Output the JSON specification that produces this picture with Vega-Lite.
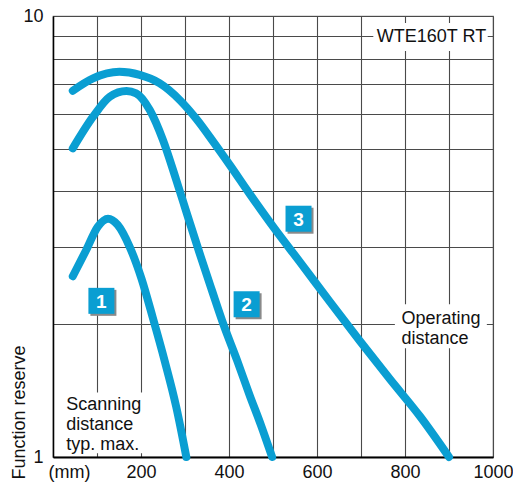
{
  "$schema": "https://vega.github.io/schema/vega-lite/v6.json",
  "width": 440,
  "height": 441,
  "autosize": {"type": "none"},
  "padding": {"left": 53, "top": 16, "right": 20, "bottom": 28},
  "background": "white",
  "config": {
    "view": {"stroke": "#777", "strokeWidth": 1.2},
    "font": "Liberation Sans",
    "axis": {"gridColor": "#4a4a4a", "gridWidth": 1.1, "gridOpacity": 1, "ticks": false, "labelFont": "Liberation Sans", "titleFont": "Liberation Sans", "labelColor": "#111", "titleColor": "#111", "labelFontSize": 18, "titleFontSize": 18, "titleFontWeight": "normal"}
  },
  "datasets": {
    "curves": [
      {"curve": "1", "d": 45, "fr": 2.57}, {"curve": "1", "d": 75, "fr": 2.94}, {"curve": "1", "d": 102, "fr": 3.33}, {"curve": "1", "d": 125, "fr": 3.47}, {"curve": "1", "d": 147, "fr": 3.36}, {"curve": "1", "d": 174, "fr": 3.0}, {"curve": "1", "d": 201, "fr": 2.54}, {"curve": "1", "d": 227, "fr": 2.066}, {"curve": "1", "d": 254, "fr": 1.649}, {"curve": "1", "d": 280, "fr": 1.3}, {"curve": "1", "d": 303, "fr": 1.0},
      {"curve": "2", "d": 45, "fr": 5.01}, {"curve": "2", "d": 91, "fr": 5.91}, {"curve": "2", "d": 129, "fr": 6.56}, {"curve": "2", "d": 167, "fr": 6.76}, {"curve": "2", "d": 189, "fr": 6.68}, {"curve": "2", "d": 220, "fr": 6.12}, {"curve": "2", "d": 250, "fr": 5.23}, {"curve": "2", "d": 280, "fr": 4.25}, {"curve": "2", "d": 306, "fr": 3.52}, {"curve": "2", "d": 333, "fr": 2.9}, {"curve": "2", "d": 361, "fr": 2.39}, {"curve": "2", "d": 388, "fr": 1.99}, {"curve": "2", "d": 418, "fr": 1.66}, {"curve": "2", "d": 447, "fr": 1.38}, {"curve": "2", "d": 472, "fr": 1.186}, {"curve": "2", "d": 498, "fr": 1.0},
      {"curve": "3", "d": 45, "fr": 6.77}, {"curve": "3", "d": 91, "fr": 7.22}, {"curve": "3", "d": 151, "fr": 7.47}, {"curve": "3", "d": 197, "fr": 7.35}, {"curve": "3", "d": 242, "fr": 7.04}, {"curve": "3", "d": 288, "fr": 6.45}, {"curve": "3", "d": 326, "fr": 5.84}, {"curve": "3", "d": 364, "fr": 5.19}, {"curve": "3", "d": 402, "fr": 4.59}, {"curve": "3", "d": 447, "fr": 3.95}, {"curve": "3", "d": 504, "fr": 3.29}, {"curve": "3", "d": 561, "fr": 2.77}, {"curve": "3", "d": 629, "fr": 2.25}, {"curve": "3", "d": 697, "fr": 1.835}, {"curve": "3", "d": 766, "fr": 1.5}, {"curve": "3", "d": 834, "fr": 1.237}, {"curve": "3", "d": 900, "fr": 1.0}
    ],
    "boxes": [
      {"label": "1", "d": 110, "fr": 2.26},
      {"label": "2", "d": 440, "fr": 2.22},
      {"label": "3", "d": 558, "fr": 3.47}
    ],
    "masks": [
      {"d": 728, "d2": 988, "fr": 8.33, "fr2": 9.64},
      {"d": 777, "d2": 986, "fr": 1.765, "fr2": 2.22},
      {"d": 5, "d2": 210, "fr": 1.02, "fr2": 1.4}
    ],
    "notes": [
      {"t": "WTE160T RT", "d": 736, "fr": 8.74},
      {"t": "Operating\ndistance", "d": 792, "fr": 2.0},
      {"t": "Scanning\ndistance\ntyp. max.", "d": 30, "fr": 1.276}
    ]
  },
  "layer": [
    {
      "data": {"name": "masks"},
      "mark": {"type": "rect", "fill": "white", "stroke": null},
      "encoding": {
        "x": {"field": "d", "type": "quantitative", "scale": {"domain": [0, 1000], "nice": false, "zero": false},
          "axis": {"values": [0, 100, 200, 300, 400, 500, 600, 700, 800, 900, 1000], "format": "d", "labelOverlap": false, "labelFlush": false, "labelPadding": 6, "domainColor": "#000", "domainWidth": 2,
            "labelExpr": "datum.value == 0 ? '(mm)' : (datum.value % 200 == 0 ? datum.label : '')",
            "labelOffset": {"condition": {"test": "datum.value == 0", "value": 16}, "value": 0},
            "title": null}},
        "x2": {"field": "d2"},
        "y": {"field": "fr", "type": "quantitative", "scale": {"type": "log", "domain": [1, 10], "nice": false},
          "axis": {"values": [1, 2, 3, 4, 5, 6, 7, 8, 9, 10], "labelExpr": "datum.value == 1 || datum.value == 10 ? datum.label : ''", "labelPadding": 10, "labelOverlap": false, "labelFlush": false, "domainColor": "#000", "domainWidth": 1.5,
            "title": "Function reserve", "titleAngle": -90, "titleX": -29, "titleY": 396, "titleAlign": "center", "titleBaseline": "alphabetic"}},
        "y2": {"field": "fr2"}
      }
    },
    {
      "mark": {"type": "rule", "color": "#000", "strokeWidth": 1.3},
      "encoding": {"y": {"datum": 1.74, "type": "quantitative"}}
    },
    {
      "data": {"name": "curves"},
      "mark": {"type": "line", "color": "#0a9ed2", "strokeWidth": 8, "strokeCap": "round", "strokeJoin": "round", "interpolate": "monotone"},
      "encoding": {
        "x": {"field": "d", "type": "quantitative"},
        "y": {"field": "fr", "type": "quantitative"},
        "detail": {"field": "curve", "type": "nominal"}
      }
    },
    {
      "data": {"name": "notes"},
      "mark": {"type": "text", "align": "left", "baseline": "alphabetic", "fontSize": 18, "lineBreak": "\n", "lineHeight": 20, "color": "#111", "font": "Liberation Sans"},
      "encoding": {
        "x": {"field": "d", "type": "quantitative"},
        "y": {"field": "fr", "type": "quantitative"},
        "text": {"field": "t"}
      }
    },
    {
      "data": {"name": "boxes"},
      "mark": {"type": "square", "color": "#8a8a8a", "opacity": 1, "size": 676, "xOffset": 2, "yOffset": 2},
      "encoding": {
        "x": {"field": "d", "type": "quantitative"},
        "y": {"field": "fr", "type": "quantitative"}
      }
    },
    {
      "data": {"name": "boxes"},
      "mark": {"type": "square", "color": "#0a9ed2", "opacity": 1, "size": 676},
      "encoding": {
        "x": {"field": "d", "type": "quantitative"},
        "y": {"field": "fr", "type": "quantitative"}
      }
    },
    {
      "data": {"name": "boxes"},
      "mark": {"type": "text", "color": "white", "fontWeight": "bold", "fontSize": 19, "align": "center", "baseline": "middle", "dy": 1},
      "encoding": {
        "x": {"field": "d", "type": "quantitative"},
        "y": {"field": "fr", "type": "quantitative"},
        "text": {"field": "label"}
      }
    }
  ]
}
